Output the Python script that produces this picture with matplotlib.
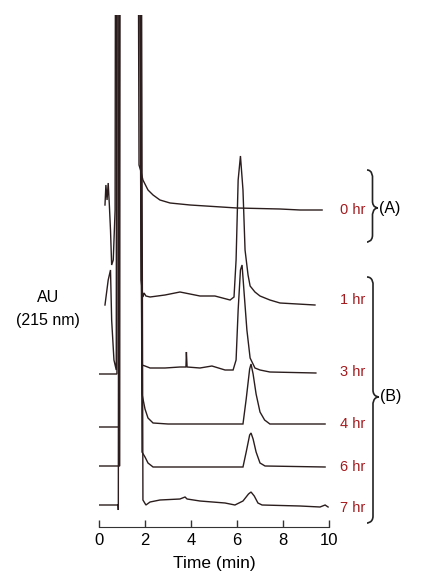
import numpy as np
import matplotlib
matplotlib.use("Agg")
import matplotlib.pyplot as plt
from matplotlib.path import Path
from matplotlib.patches import PathPatch

plt.rcParams['font.family'] = ['Liberation Sans', 'DejaVu Sans']

# sampling times (hr) and their stacking offsets (arbitrary AU)
labels = ["0 hr", "1 hr", "3 hr", "4 hr", "6 hr", "7 hr"]
offsets = [317, 227, 157, 103, 60, 22]

# traces: time (min), signal above own baseline; 700 = off scale
t_0 = [0.26, 0.30, 0.35, 0.40, 0.45, 0.50, 0.55, 0.62, 0.70, 0.74, 1.65, 1.74, 1.83, 1.91, 2.13, 2.35, 2.65, 3.09, 3.96, 6.00, 7.87, 8.74, 9.70]
s_0 = [5, 25, 10, 27, 5, -20, -55, -50, 0, 700, 700, 45, 38, 30, 20, 15, 10, 7, 5, 2, 1, 0, 0]

t_1 = [0.26, 0.40, 0.50, 0.55, 0.65, 0.75, 0.78, 1.70, 1.83, 1.91, 1.96, 2.04, 2.22, 2.87, 3.52, 3.74, 4.39, 5.04, 5.70, 5.87, 5.96, 6.05, 6.15, 6.26, 6.35, 6.48, 6.57, 6.78, 7.00, 7.43, 7.87, 9.39]
s_1 = [-5, 20, 30, -20, -60, -70, 700, 700, 20, 3, 7, 4, 3, 5, 8, 7, 4, 4, 0, 3, 40, 120, 144, 110, 50, 25, 14, 8, 4, 0, -3, -5]

t_3 = [0.00, 0.78, 0.80, 1.74, 1.87, 2.00, 2.22, 2.87, 3.52, 3.78, 3.80, 3.83, 4.39, 4.91, 5.48, 5.83, 5.96, 6.05, 6.15, 6.22, 6.30, 6.43, 6.57, 6.78, 7.00, 7.43, 9.43]
s_3 = [-4, -4, 700, 700, 5, 4, 2, 2, 3, 3, 18, 3, 2, 4, 0, 0, 10, 60, 100, 105, 80, 40, 12, 2, 0, -2, -3]

t_4 = [0.00, 0.87, 0.90, 1.74, 1.87, 2.00, 2.13, 2.35, 3.00, 6.26, 6.40, 6.55, 6.61, 6.70, 6.83, 7.00, 7.20, 7.43, 9.83]
s_4 = [-3, -3, 700, 700, 30, 15, 6, 1, 0, 0, 25, 55, 60, 50, 30, 12, 4, 0, 0]

t_6 = [0.00, 0.90, 0.92, 1.78, 1.87, 2.00, 2.13, 2.35, 6.26, 6.40, 6.55, 6.61, 6.70, 6.83, 7.00, 7.22, 9.83]
s_6 = [1, 1, 700, 700, 15, 10, 4, 0, 0, 15, 32, 34, 28, 15, 4, 1, 0]

t_7 = [0.00, 0.83, 0.84, 0.87, 1.83, 1.91, 2.04, 2.22, 2.65, 3.52, 3.74, 3.83, 4.39, 5.48, 5.91, 6.26, 6.50, 6.61, 6.75, 6.91, 7.09, 8.74, 9.61, 9.83, 9.96]
s_7 = [0, 0, -5, 700, 700, 5, 0, 3, 5, 6, 8, 6, 4, 2, 0, 4, 11, 13, 9, 2, 0, -1, -2, 0, -2]

times = [t_0, t_1, t_3, t_4, t_6, t_7]
signals = [s_0, s_1, s_3, s_4, s_6, s_7]

W, H = 444, 585
fig = plt.figure(figsize=(W / 100, H / 100), dpi=100)

ax = fig.add_axes([99 / W, (H - 527) / H, 230 / W, 512 / H])
for t, s, off in zip(times, signals, offsets):
    ax.plot(t, np.array(s) + off, color="#2b1d1d", lw=1.0, solid_joinstyle="miter")

ax.set_xlim(0, 10)
ax.set_ylim(0, 512)
ax.set_xticks([0, 2, 4, 6, 8, 10])
ax.tick_params(axis="x", direction="in", length=5, width=1, labelsize=12, pad=4, color="#333333")
ax.set_yticks([])
for side in ["left", "right", "top"]:
    ax.spines[side].set_visible(False)
ax.spines["bottom"].set_color("#333333")
ax.set_xlabel("Time (min)", fontsize=12.5, labelpad=6)

# overlay in pixel coords for labels and braces
ov = fig.add_axes([0, 0, 1, 1], facecolor="none")
ov.set_xlim(0, W)
ov.set_ylim(H, 0)
ov.axis("off")

label_y = [210, 300, 372, 424, 467, 508]
for lab, y in zip(labels, label_y):
    ov.text(340, y, lab, color="#a31b1f", fontsize=10.5, va="center", ha="left")

ov.text(48, 298, "AU", fontsize=11.5, ha="center", va="center")
ov.text(48, 321, "(215 nm)", fontsize=11.5, ha="center", va="center")


def brace(x0, ytop, ybot, ymid, w):
    r = 7
    xm = x0 + w / 2
    verts = [(x0, ytop), (xm, ytop), (xm, ytop + r), (xm, ytop + r),
             (xm, ymid - r),
             (xm, ymid), (x0 + w, ymid), (x0 + w, ymid),
             (xm, ymid), (xm, ymid + r), (xm, ymid + r),
             (xm, ybot - r),
             (xm, ybot), (x0, ybot), (x0, ybot)]
    codes = [Path.MOVETO, Path.CURVE4, Path.CURVE4, Path.CURVE4,
             Path.LINETO,
             Path.CURVE4, Path.CURVE4, Path.CURVE4,
             Path.CURVE4, Path.CURVE4, Path.CURVE4,
             Path.LINETO,
             Path.CURVE4, Path.CURVE4, Path.CURVE4]
    ov.add_patch(PathPatch(Path(verts, codes), fill=False, lw=1.2, color="#222222"))


brace(367, 170, 242, 208, 11)
brace(367, 277, 523, 397, 12)
ov.text(379, 208, "(A)", fontsize=11.5, va="center", ha="left")
ov.text(380, 397, "(B)", fontsize=11.5, va="center", ha="left")

fig.savefig("out.png", dpi=100)
